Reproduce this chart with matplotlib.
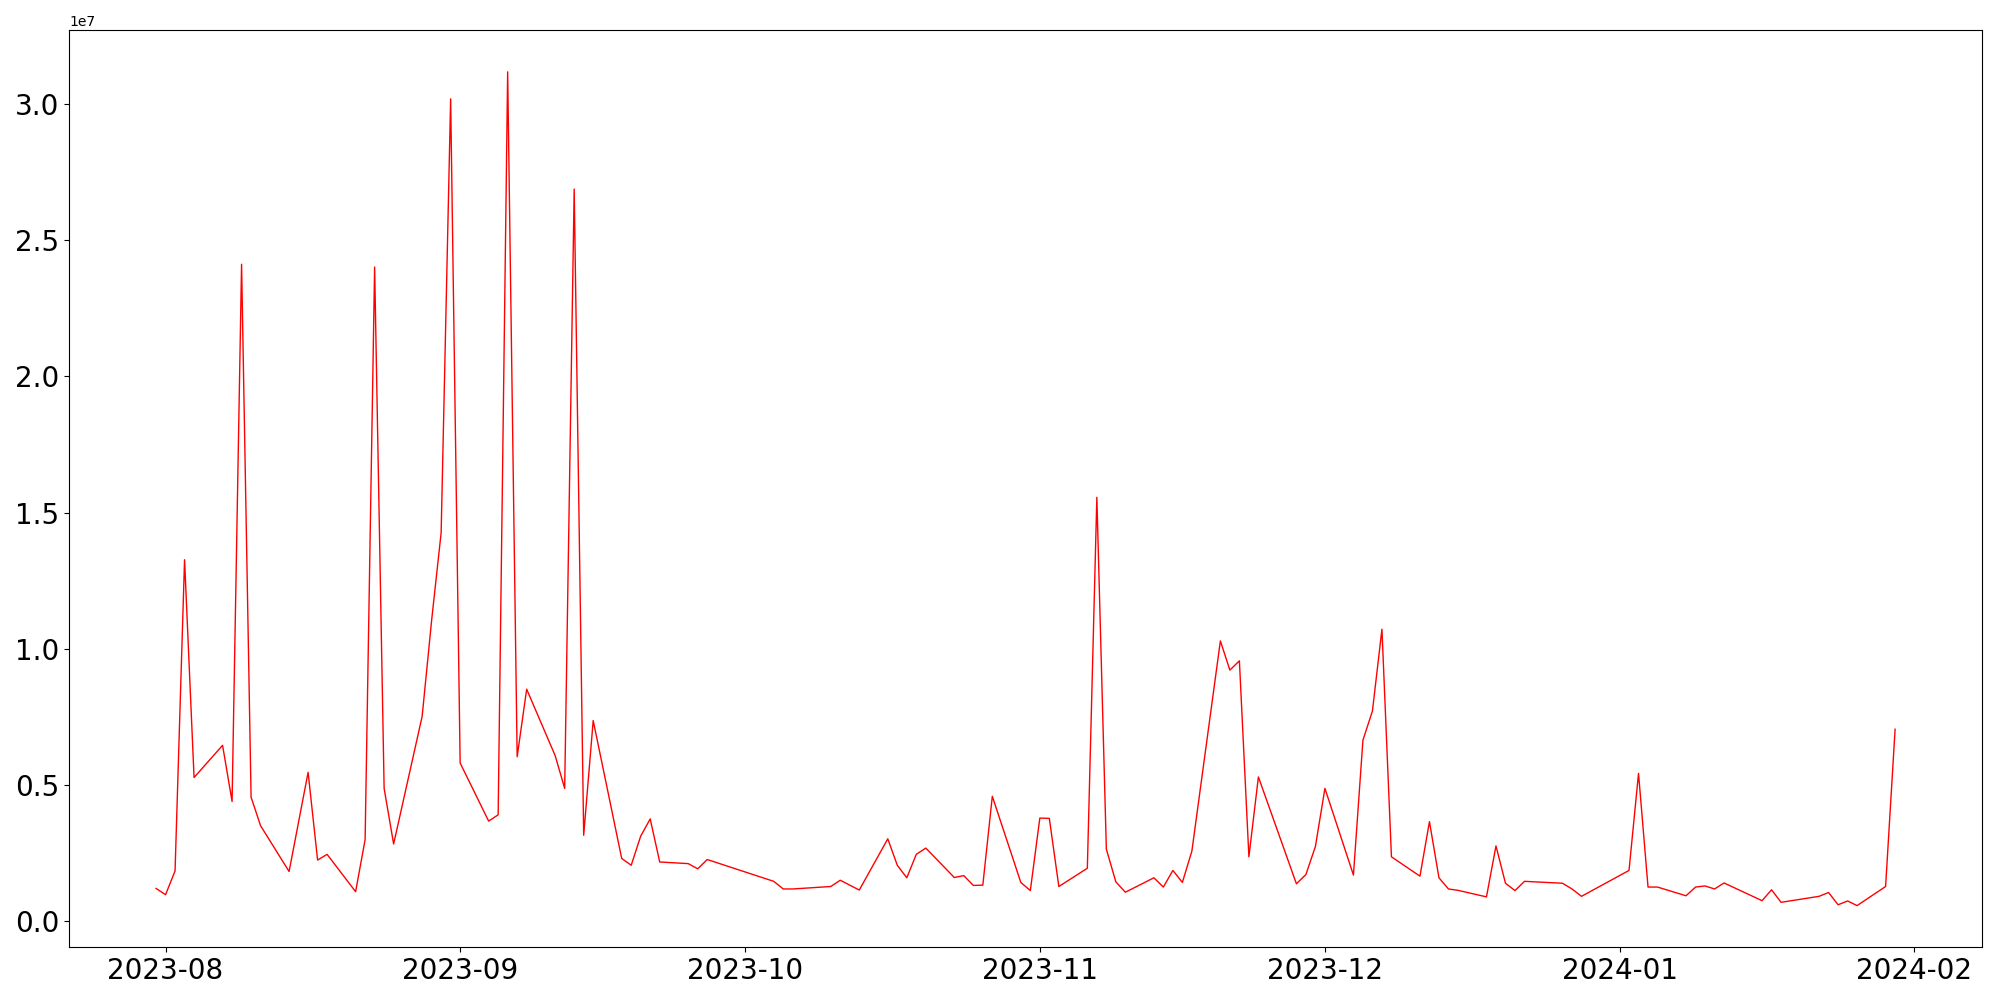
import numpy as np
import pandas as pd
import matplotlib
matplotlib.use('Agg')
import matplotlib.pyplot as plt

dates = pd.to_datetime([
    '2023-07-31', '2023-08-01', '2023-08-02', '2023-08-03', '2023-08-04',
    '2023-08-07', '2023-08-08', '2023-08-09', '2023-08-10', '2023-08-11',
    '2023-08-14', '2023-08-16', '2023-08-17', '2023-08-18',
    '2023-08-21', '2023-08-22', '2023-08-23', '2023-08-24', '2023-08-25',
    '2023-08-28', '2023-08-29', '2023-08-30', '2023-08-31', '2023-09-01',
    '2023-09-04', '2023-09-05', '2023-09-06', '2023-09-07', '2023-09-08',
    '2023-09-11', '2023-09-12', '2023-09-13', '2023-09-14', '2023-09-15',
    '2023-09-18', '2023-09-19', '2023-09-20', '2023-09-21', '2023-09-22',
    '2023-09-25', '2023-09-26', '2023-09-27',
    '2023-10-04', '2023-10-05', '2023-10-06',
    '2023-10-10', '2023-10-11', '2023-10-13',
    '2023-10-16', '2023-10-17', '2023-10-18', '2023-10-19', '2023-10-20',
    '2023-10-23', '2023-10-24', '2023-10-25', '2023-10-26', '2023-10-27',
    '2023-10-30', '2023-10-31', '2023-11-01', '2023-11-02', '2023-11-03',
    '2023-11-06', '2023-11-07', '2023-11-08', '2023-11-09', '2023-11-10',
    '2023-11-13', '2023-11-14', '2023-11-15', '2023-11-16', '2023-11-17',
    '2023-11-20', '2023-11-21', '2023-11-22', '2023-11-23', '2023-11-24',
    '2023-11-28', '2023-11-29', '2023-11-30', '2023-12-01',
    '2023-12-04', '2023-12-05', '2023-12-06', '2023-12-07', '2023-12-08',
    '2023-12-11', '2023-12-12', '2023-12-13', '2023-12-14', '2023-12-15',
    '2023-12-18', '2023-12-19', '2023-12-20', '2023-12-21', '2023-12-22',
    '2023-12-26', '2023-12-27', '2023-12-28',
    '2024-01-02', '2024-01-03', '2024-01-04', '2024-01-05',
    '2024-01-08', '2024-01-09', '2024-01-10', '2024-01-11', '2024-01-12',
    '2024-01-16', '2024-01-17', '2024-01-18',
    '2024-01-22', '2024-01-23', '2024-01-24', '2024-01-25', '2024-01-26',
    '2024-01-29', '2024-01-30',
])

# values in units of 1e6
volume = np.array([
    1.21, 0.98, 1.85, 13.27, 5.28,
    6.46, 4.40, 24.11, 4.56, 3.51,
    1.83, 5.47, 2.25, 2.46,
    1.09, 3.00, 24.01, 4.88, 2.84,
    7.52, 11.05, 14.26, 30.18, 5.81,
    3.68, 3.91, 31.17, 6.04, 8.52,
    6.08, 4.88, 26.87, 3.16, 7.37,
    2.31, 2.06, 3.13, 3.76, 2.18,
    2.12, 1.93, 2.27,
    1.47, 1.19, 1.19,
    1.28, 1.51, 1.15,
    3.03, 2.06, 1.60, 2.46, 2.69,
    1.61, 1.68, 1.32, 1.33, 4.59,
    1.43, 1.13, 3.79, 3.78, 1.28,
    1.95, 15.56, 2.65, 1.45, 1.07,
    1.60, 1.26, 1.87, 1.43, 2.58,
    10.29, 9.22, 9.56, 2.37, 5.30,
    1.38, 1.72, 2.75, 4.88,
    1.70, 6.65, 7.72, 10.72, 2.37,
    1.66, 3.66, 1.60, 1.19, 1.14,
    0.90, 2.77, 1.40, 1.13, 1.47,
    1.40, 1.19, 0.92,
    1.87, 5.43, 1.26, 1.26,
    0.94, 1.26, 1.30, 1.19, 1.41,
    0.76, 1.16, 0.70,
    0.92, 1.06, 0.61, 0.75, 0.58,
    1.28, 7.05,
]) * 1e6

fig, ax = plt.subplots(figsize=(20, 10), tight_layout=True)
ax.plot(dates, volume, color='red', linewidth=1)
ax.tick_params(axis='both', labelsize=20)

plt.savefig('out.png', dpi=100)
